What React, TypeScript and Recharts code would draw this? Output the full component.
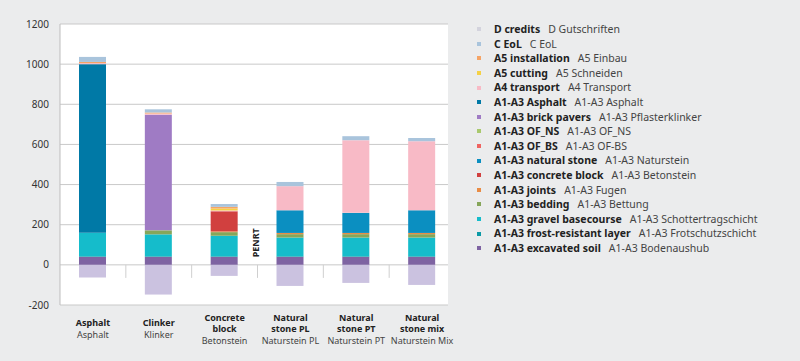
import React from 'react';
import {
  BarChart,
  Bar,
  XAxis,
  YAxis,
  CartesianGrid,
  ReferenceLine,
} from 'recharts';

// categories and axis labels
const categories = ['Asphalt', 'Clinker', 'Concrete block', 'Natural stone PL', 'Natural stone PT', 'Natural stone mix'];
const labelLinesEn = [['Asphalt'], ['Clinker'], ['Concrete', 'block'], ['Natural', 'stone PL'], ['Natural', 'stone PT'], ['Natural', 'stone mix']];
const labelLinesDe = ['Asphalt', 'Klinker', 'Betonstein', 'Naturstein PL', 'Naturstein PT', 'Naturstein Mix'];
const yTicks = [-200, 0, 200, 400, 600, 800, 1000, 1200];

// series values (bottom of stack first)
const excavatedSoil = [40, 40, 40, 40, 40, 40];
const frostLayer = [3, 3, 3, 3, 3, 3];
const gravelBasecourse = [117, 109, 102, 93, 93, 93];
const bedding = [0, 20, 18, 17, 17, 17];
const joints = [0, 0, 4, 6, 6, 6];
const concreteBlock = [0, 0, 100, 0, 0, 0];
const naturalStone = [0, 0, 0, 113, 100, 113];
const ofBs = [0, 0, 0, 0, 0, 0];
const ofNs = [0, 0, 0, 0, 0, 0];
const brickPavers = [0, 576, 0, 0, 0, 0];
const asphalt = [840, 0, 0, 0, 0, 0];
const a4Transport = [5, 6, 4, 120, 362, 344];
const a5Cutting = [0, 0, 10, 0, 0, 0];
const a5Installation = [6, 5, 8, 0, 0, 0];
const cEol = [25, 16, 14, 21, 20, 16];
const dCredits = [-63, -148, -55, -105, -90, -100];

const series = [
  { key: 'excavated', en: 'A1-A3 excavated soil', de: 'A1-A3 Bodenaushub', color: '#7e63a2', values: excavatedSoil },
  { key: 'frost', en: 'A1-A3 frost-resistant layer', de: 'A1-A3 Frotschutzschicht', color: '#0b9aa6', values: frostLayer },
  { key: 'gravel', en: 'A1-A3 gravel basecourse', de: 'A1-A3 Schottertragschicht', color: '#15bccb', values: gravelBasecourse },
  { key: 'bedding', en: 'A1-A3 bedding', de: 'A1-A3 Bettung', color: '#86a65a', values: bedding },
  { key: 'joints', en: 'A1-A3 joints', de: 'A1-A3 Fugen', color: '#e98c45', values: joints },
  { key: 'concrete', en: 'A1-A3 concrete block', de: 'A1-A3 Betonstein', color: '#d1403f', values: concreteBlock },
  { key: 'stone', en: 'A1-A3 natural stone', de: 'A1-A3 Naturstein', color: '#0b8fc1', values: naturalStone },
  { key: 'ofbs', en: 'A1-A3 OF_BS', de: 'A1-A3 OF-BS', color: '#ef6461', values: ofBs },
  { key: 'ofns', en: 'A1-A3 OF_NS', de: 'A1-A3 OF_NS', color: '#a9c96e', values: ofNs },
  { key: 'brick', en: 'A1-A3 brick pavers', de: 'A1-A3 Pflasterklinker', color: '#9f7bc4', values: brickPavers },
  { key: 'asphalt', en: 'A1-A3 Asphalt', de: 'A1-A3 Asphalt', color: '#0079a6', values: asphalt },
  { key: 'a4', en: 'A4 transport', de: 'A4 Transport', color: '#f8bac6', values: a4Transport },
  { key: 'a5cut', en: 'A5 cutting', de: 'A5 Schneiden', color: '#f5d146', values: a5Cutting },
  { key: 'a5inst', en: 'A5 installation', de: 'A5 Einbau', color: '#f5a466', values: a5Installation },
  { key: 'ceol', en: 'C EoL', de: 'C EoL', color: '#a9c4dc', values: cEol },
  { key: 'd', en: 'D credits', de: 'D Gutschriften', color: '#cbc2e0', values: dCredits },
];

const legendDots: Record<string, string> = { d: '#d3d3dd' };

const data = categories.map((name, i) => {
  const row: { [key: string]: string | number } = { name };
  series.forEach((s) => {
    row[s.key] = s.values[i];
  });
  return row;
});

const FONT = '"Noto Sans", sans-serif';

// multi-line category label: bold English line(s), then German
const CategoryTick = (props: any) => {
  const { x, y, payload } = props;
  const idx = categories.indexOf(payload.value);
  const lines = [...labelLinesEn[idx].map((t) => ({ t, bold: true })), { t: labelLinesDe[idx], bold: false }];
  const n = lines.length;
  const lineH = 11.5;
  return (
    <text
      x={x}
      y={y + 27 - ((n - 1) / 2) * lineH}
      textAnchor="middle"
      fontFamily={FONT}
      fontSize={9}
    >
      {lines.map((l, i) => (
        <tspan
          key={i}
          x={x}
          dy={i === 0 ? 0 : lineH}
          fontWeight={l.bold ? 700 : 400}
          fill={l.bold ? '#222' : '#444'}
        >
          {l.t}
        </tspan>
      ))}
    </text>
  );
};

const Legend = () => (
  <div style={{ position: 'absolute', left: 477, top: 22, fontFamily: FONT, fontSize: 10.5 }}>
    {[...series].reverse().map((s) => (
      <div key={s.key} style={{ height: 14.6, lineHeight: '14.6px', display: 'flex', alignItems: 'center', whiteSpace: 'nowrap' }}>
        <span style={{ width: 4, height: 4, background: legendDots[s.key] || s.color, marginRight: 13 }} />
        <span style={{ fontWeight: 700, color: '#222' }}>{s.en}</span>
        <span style={{ marginLeft: 8, color: '#444' }}>{s.de}</span>
      </div>
    ))}
  </div>
);

const App: React.FC = () => {
  return (
    <div style={{ position: 'absolute', left: 0, top: 0, width: 800, height: 361, background: '#ebeced' }}>
      <BarChart
        width={460}
        height={361}
        data={data}
        stackOffset="sign"
        margin={{ top: 24, right: 12, bottom: 0, left: 0 }}
      >
        <CartesianGrid vertical={false} stroke="#c9c9c9" fill="#ffffff" />
        <XAxis
          dataKey="name"
          height={56}
          axisLine={false}
          tickLine={false}
          tickSize={0}
          tickMargin={0}
          interval={0}
          padding={{ left: 0, right: -7 }}
          tick={<CategoryTick />}
        />
        <YAxis
          width={60}
          domain={[-200, 1200]}
          ticks={yTicks}
          tickLine={false}
          tickSize={0}
          tickMargin={11}
          axisLine={{ stroke: '#bdbdbd' }}
          tick={{ fontSize: 10, fill: '#333', fontFamily: FONT }}
        />
        {series.map((s) => (
          <Bar key={s.key} dataKey={s.key} stackId="a" fill={s.color} barSize={27} isAnimationActive={false} />
        ))}
        {categories.slice(1).map((c) => (
          <ReferenceLine
            key={c}
            position="start"
            segment={[{ x: c, y: 0 }, { x: c, y: -65 }]}
            stroke="#cfcfcf"
          />
        ))}
        <ReferenceLine
          position="start"
          segment={[{ x: 'Natural stone PL', y: 50 }, { x: 'Natural stone PL', y: 170 }]}
          stroke="none"
          label={{ value: 'PENRT', angle: -90, position: 'center', dx: -2, fontSize: 9, fontWeight: 700, fill: '#222', fontFamily: FONT }}
        />
      </BarChart>
      <Legend />
    </div>
  );
};

export default App;
